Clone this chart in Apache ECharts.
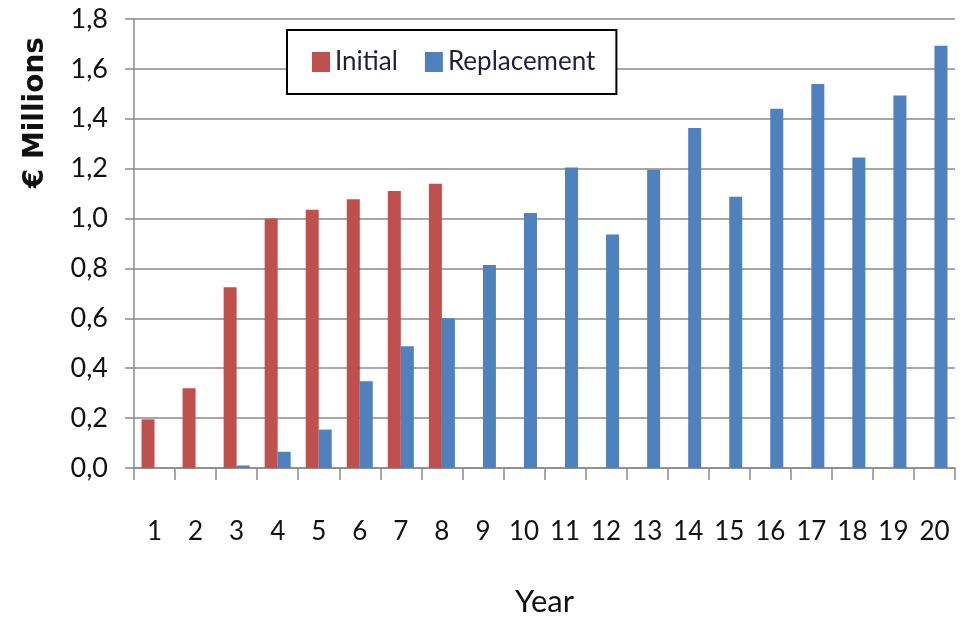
<!DOCTYPE html>
<html>
<head>
<meta charset="utf-8">
<script src="https://cdn.jsdelivr.net/npm/echarts@6/dist/echarts.min.js"></script>
<style>
  html, body { margin: 0; padding: 0; background: #ffffff; overflow: hidden; width: 963px; height: 622px; }
  #chart { width: 963px; height: 622px; }
</style>
</head>
<body>
<div id="chart"></div>
<script>
const years = ['1','2','3','4','5','6','7','8','9','10','11','12','13','14','15','16','17','18','19','20'];
const initialValues = [0.195, 0.32, 0.725, 1.00, 1.035, 1.077, 1.11, 1.14, 0, 0, 0, 0, 0, 0, 0, 0, 0, 0, 0, 0];
const replacementValues = [0, 0, 0.01, 0.065, 0.154, 0.348, 0.488, 0.60, 0.814, 1.022, 1.205, 0.936, 1.196, 1.363, 1.087, 1.44, 1.539, 1.245, 1.493, 1.693];
const seriesNames = ['Initial', 'Replacement'];
const yAxisTitle = '€ Millions';
const xAxisTitle = 'Year';

const font = "Lato, 'Liberation Sans', Arial, sans-serif";
const chart = echarts.init(document.getElementById('chart'), null, { renderer: 'canvas', width: 963, height: 622 });

chart.setOption({
  backgroundColor: '#ffffff',
  animation: false,
  grid: { left: 134, right: 8, top: 19, bottom: 148, containLabel: false },
  legend: {
    data: seriesNames,
    left: 287,
    top: 30,
    padding: [19, 21, 19, 25],
    itemWidth: 18,
    itemHeight: 20,
    itemGap: 27,
    icon: 'rect',
    borderColor: '#000000',
    borderWidth: 2,
    backgroundColor: '#ffffff',
    textStyle: { fontFamily: font, fontSize: 26, color: '#1f1f3a' }
  },
  xAxis: {
    type: 'category',
    data: years,
    name: xAxisTitle,
    nameLocation: 'middle',
    nameGap: 118,
    nameTextStyle: { fontFamily: font, fontSize: 31, color: '#111111' },
    axisLine: { lineStyle: { color: '#8a8a8a', width: 1.5 } },
    axisTick: { show: true, length: 12, lineStyle: { color: '#8a8a8a', width: 1.5 } },
    axisLabel: { fontFamily: font, fontSize: 26, color: '#111111', margin: 51, interval: 0 }
  },
  yAxis: {
    type: 'value',
    min: 0,
    max: 1.8,
    interval: 0.2,
    axisLine: { show: true, lineStyle: { color: '#8a8a8a', width: 1.5 } },
    axisTick: { show: true, length: 9, lineStyle: { color: '#8a8a8a', width: 1.5 } },
    axisLabel: {
      fontFamily: font, fontSize: 27, color: '#111111', margin: 26,
      formatter: v => v.toFixed(1).replace('.', ',')
    },
    splitLine: { show: true, lineStyle: { color: '#8a8a8a', width: 1.5 } }
  },
  graphic: [{
    type: 'text',
    left: 22,
    top: 37,
    rotation: Math.PI / 2,
    style: {
      text: yAxisTitle,
      font: "bold 28px 'DejaVu Sans', sans-serif",
      fill: '#111111'
    }
  }],
  series: [
    {
      name: seriesNames[0],
      type: 'bar',
      data: initialValues,
      barWidth: 13,
      barGap: '0%',
      itemStyle: { color: '#C0504D' }
    },
    {
      name: seriesNames[1],
      type: 'bar',
      data: replacementValues,
      barWidth: 13,
      barGap: '0%',
      itemStyle: { color: '#4F81BD' }
    }
  ]
});
</script>
</body>
</html>
